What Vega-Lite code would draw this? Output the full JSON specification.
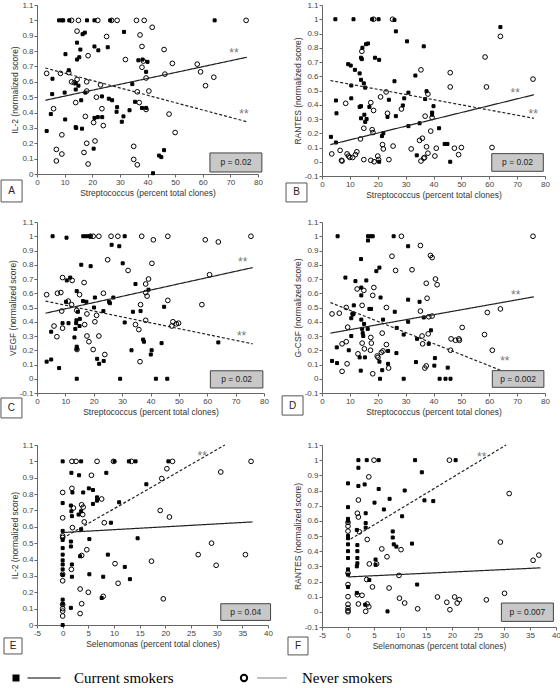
{
"$schema":"https://vega.github.io/schema/vega-lite/v6.json",
"background":"white",
"padding":{"left":0,"top":1,"right":0,"bottom":0},
"config":{"view":{"stroke":null},"font":"Liberation Sans",
"axis":{"grid":false,"labelFont":"Liberation Sans","labelFontSize":8,"labelColor":"#444","titleFont":"Liberation Sans","titleFontSize":8.5,"titleFontWeight":"normal","titleColor":"#333","domainColor":"#666","tickColor":"#666","tickSize":3,"labelPadding":1,"titlePadding":2,"labelOverlap":false,"labelFlush":false},
"axisY":{"titlePadding":2}},
"datasets":{
"A":[{"g":"C","x":8,"y":1},{"g":"C","x":9,"y":1},{"g":"C","x":9.5,"y":1},{"g":"C","x":11.7,"y":1},{"g":"C","x":18.1,"y":1},{"g":"C","x":20.8,"y":1},{"g":"C","x":26.5,"y":1},{"g":"C","x":64.3,"y":1},{"g":"C","x":16.5,"y":0.91},{"g":"C","x":17.3,"y":0.92},{"g":"C","x":31.5,"y":0.925},{"g":"C","x":14.5,"y":0.855},{"g":"C","x":15.7,"y":0.81},{"g":"C","x":20.8,"y":0.83},{"g":"C","x":22.2,"y":0.805},{"g":"C","x":25.6,"y":0.825},{"g":"C","x":10.3,"y":0.78},{"g":"C","x":15.3,"y":0.76},{"g":"C","x":14.5,"y":0.745},{"g":"C","x":36.7,"y":0.74},{"g":"C","x":38.2,"y":0.745},{"g":"C","x":40,"y":0.73},{"g":"C","x":39.5,"y":0.665},{"g":"C","x":11.5,"y":0.675},{"g":"C","x":14,"y":0.59},{"g":"C","x":15,"y":0.575},{"g":"C","x":5.6,"y":0.62},{"g":"C","x":5.5,"y":0.52},{"g":"C","x":10,"y":0.53},{"g":"C","x":14,"y":0.55},{"g":"C","x":16,"y":0.48},{"g":"C","x":17.5,"y":0.53},{"g":"C","x":23.5,"y":0.505},{"g":"C","x":26,"y":0.49},{"g":"C","x":27.2,"y":0.48},{"g":"C","x":34.5,"y":0.585},{"g":"C","x":35.5,"y":0.47},{"g":"C","x":5,"y":0.39},{"g":"C","x":10.2,"y":0.355},{"g":"C","x":14.2,"y":0.3},{"g":"C","x":16.3,"y":0.295},{"g":"C","x":20.8,"y":0.365},{"g":"C","x":22,"y":0.37},{"g":"C","x":23.6,"y":0.37},{"g":"C","x":28.8,"y":0.405},{"g":"C","x":29,"y":0.435},{"g":"C","x":30.7,"y":0.34},{"g":"C","x":31.3,"y":0.375},{"g":"C","x":33.5,"y":0.415},{"g":"C","x":38,"y":0.43},{"g":"C","x":39.5,"y":0.43},{"g":"C","x":3.5,"y":0.28},{"g":"C","x":20.5,"y":0.165},{"g":"C","x":44.2,"y":0.12},{"g":"C","x":45,"y":0.11},{"g":"C","x":46,"y":0.155},{"g":"C","x":42,"y":0.005},{"g":"C","x":14,"y":0.305},
{"g":"N","x":3.5,"y":0.655},{"g":"N","x":6,"y":0.425},{"g":"N","x":7,"y":0.16},{"g":"N","x":7,"y":0.085},{"g":"N","x":8.5,"y":0.655},{"g":"N","x":9,"y":0.255},{"g":"N","x":9,"y":0.13},{"g":"N","x":11.5,"y":0.66},{"g":"N","x":12.5,"y":0.6},{"g":"N","x":13.5,"y":0.595},{"g":"N","x":14.5,"y":0.615},{"g":"N","x":14,"y":0.465},{"g":"N","x":12.5,"y":1},{"g":"N","x":15,"y":1},{"g":"N","x":14.5,"y":0.93},{"g":"N","x":18,"y":0.6},{"g":"N","x":18,"y":0.54},{"g":"N","x":18.5,"y":0.77},{"g":"N","x":17.5,"y":0.375},{"g":"N","x":18,"y":0.2},{"g":"N","x":17,"y":0.14},{"g":"N","x":18.5,"y":0.065},{"g":"N","x":20.5,"y":0.335},{"g":"N","x":21.5,"y":0.5},{"g":"N","x":21,"y":0.215},{"g":"N","x":22,"y":1},{"g":"N","x":23,"y":0.58},{"g":"N","x":23.5,"y":0.425},{"g":"N","x":24,"y":0.315},{"g":"N","x":25.2,"y":0.895},{"g":"N","x":27,"y":1},{"g":"N","x":29,"y":1},{"g":"N","x":32,"y":0.745},{"g":"N","x":36,"y":1},{"g":"N","x":35,"y":0.18},{"g":"N","x":35,"y":0.095},{"g":"N","x":36.3,"y":0.06},{"g":"N","x":36.3,"y":0.535},{"g":"N","x":37,"y":0.465},{"g":"N","x":37.3,"y":0.905},{"g":"N","x":38,"y":0.83},{"g":"N","x":38,"y":0.695},{"g":"N","x":38.5,"y":0.735},{"g":"N","x":39.5,"y":0.625},{"g":"N","x":39.5,"y":0.42},{"g":"N","x":40.5,"y":0.54},{"g":"N","x":41.7,"y":0.955},{"g":"N","x":38.8,"y":1},{"g":"N","x":46,"y":0.81},{"g":"N","x":46.3,"y":0.65},{"g":"N","x":47.8,"y":0.39},{"g":"N","x":49,"y":0.72},{"g":"N","x":50,"y":0.27},{"g":"N","x":58,"y":0.715},{"g":"N","x":59.2,"y":0.665},{"g":"N","x":61,"y":0.575},{"g":"N","x":64,"y":0.63},{"g":"N","x":75.7,"y":1}],
"B":[{"g":"C","x":4.8,"y":1},{"g":"C","x":11.3,"y":1},{"g":"C","x":18,"y":1},{"g":"C","x":20.3,"y":1},{"g":"C","x":26,"y":0.995},{"g":"C","x":64,"y":0.945},{"g":"C","x":26.5,"y":0.915},{"g":"C","x":30.5,"y":0.845},{"g":"C","x":36.5,"y":0.81},{"g":"C","x":16.5,"y":0.83},{"g":"C","x":15.8,"y":0.825},{"g":"C","x":14.5,"y":0.8},{"g":"C","x":14,"y":0.73},{"g":"C","x":14.3,"y":0.72},{"g":"C","x":9.4,"y":0.685},{"g":"C","x":10.3,"y":0.675},{"g":"C","x":11.8,"y":0.645},{"g":"C","x":13.5,"y":0.62},{"g":"C","x":19,"y":0.73},{"g":"C","x":20.5,"y":0.715},{"g":"C","x":14,"y":0.575},{"g":"C","x":15,"y":0.55},{"g":"C","x":15.5,"y":0.52},{"g":"C","x":10.5,"y":0.535},{"g":"C","x":5,"y":0.43},{"g":"C","x":5.2,"y":0.34},{"g":"C","x":3.2,"y":0.175},{"g":"C","x":5,"y":0.135},{"g":"C","x":10.5,"y":0.445},{"g":"C","x":13.5,"y":0.385},{"g":"C","x":14,"y":0.39},{"g":"C","x":17,"y":0.385},{"g":"C","x":15.2,"y":0.33},{"g":"C","x":14,"y":0.305},{"g":"C","x":16,"y":0.3},{"g":"C","x":15.5,"y":0.28},{"g":"C","x":26,"y":0.565},{"g":"C","x":33.5,"y":0.605},{"g":"C","x":37.5,"y":0.495},{"g":"C","x":37,"y":0.44},{"g":"C","x":39.5,"y":0.345},{"g":"C","x":39.5,"y":0.33},{"g":"C","x":40,"y":0.39},{"g":"C","x":29.5,"y":0.445},{"g":"C","x":29,"y":0.395},{"g":"C","x":31,"y":0.485},{"g":"C","x":24,"y":0.435},{"g":"C","x":23.5,"y":0.315},{"g":"C","x":26.5,"y":0.32},{"g":"C","x":31,"y":0.25},{"g":"C","x":35,"y":0.27},{"g":"C","x":42,"y":0.235},{"g":"C","x":22,"y":0.2},{"g":"C","x":21.5,"y":0.18},{"g":"C","x":34,"y":0.045},{"g":"C","x":44,"y":0.125},{"g":"C","x":45,"y":0.125},{"g":"C","x":46,"y":0},{"g":"C","x":20.5,"y":0},
{"g":"N","x":3.5,"y":0.055},{"g":"N","x":6.5,"y":0.08},{"g":"N","x":7,"y":0.01},{"g":"N","x":7.2,"y":0.005},{"g":"N","x":8.5,"y":0.41},{"g":"N","x":9,"y":0.055},{"g":"N","x":9.5,"y":0.04},{"g":"N","x":10,"y":0.03},{"g":"N","x":11,"y":0.03},{"g":"N","x":12,"y":0.05},{"g":"N","x":12.5,"y":0.07},{"g":"N","x":13.8,"y":0.16},{"g":"N","x":15,"y":0.235},{"g":"N","x":15,"y":0.015},{"g":"N","x":17.5,"y":0.415},{"g":"N","x":18,"y":0.225},{"g":"N","x":18.3,"y":0.205},{"g":"N","x":18.5,"y":0.36},{"g":"N","x":17.5,"y":0.01},{"g":"N","x":18.7,"y":0},{"g":"N","x":20,"y":0.04},{"g":"N","x":20.3,"y":0.015},{"g":"N","x":21,"y":0.455},{"g":"N","x":21.7,"y":0.12},{"g":"N","x":22,"y":0.09},{"g":"N","x":23,"y":0.49},{"g":"N","x":23.5,"y":0.34},{"g":"N","x":24,"y":0.015},{"g":"N","x":25.5,"y":0.11},{"g":"N","x":28.5,"y":0.37},{"g":"N","x":32,"y":0.09},{"g":"N","x":35,"y":0.15},{"g":"N","x":35.5,"y":0.005},{"g":"N","x":35.5,"y":0.645},{"g":"N","x":36,"y":0.165},{"g":"N","x":36.5,"y":0.025},{"g":"N","x":36.8,"y":0.03},{"g":"N","x":37,"y":0.32},{"g":"N","x":37.5,"y":0.105},{"g":"N","x":38,"y":0.06},{"g":"N","x":38,"y":0.475},{"g":"N","x":39,"y":0.215},{"g":"N","x":39.5,"y":0.31},{"g":"N","x":40.5,"y":0.04},{"g":"N","x":41,"y":0.095},{"g":"N","x":46,"y":0.625},{"g":"N","x":46,"y":0.525},{"g":"N","x":47.5,"y":0.095},{"g":"N","x":49,"y":0.05},{"g":"N","x":50,"y":0.1},{"g":"N","x":58.5,"y":0.735},{"g":"N","x":59,"y":0.525},{"g":"N","x":61,"y":0.1},{"g":"N","x":75.7,"y":0.58},{"g":"N","x":64,"y":0.88},{"g":"N","x":14.3,"y":0.775},{"g":"N","x":18.5,"y":1},{"g":"N","x":25.3,"y":1}],
"C":[{"g":"C","x":5.5,"y":1},{"g":"C","x":10.4,"y":0.99},{"g":"C","x":16.3,"y":1},{"g":"C","x":17.4,"y":1},{"g":"C","x":18.6,"y":1},{"g":"C","x":30.9,"y":1},{"g":"C","x":26.3,"y":0.94},{"g":"C","x":29,"y":0.93},{"g":"C","x":15.6,"y":0.8},{"g":"C","x":18.9,"y":0.79},{"g":"C","x":30.2,"y":0.81},{"g":"C","x":10.5,"y":0.69},{"g":"C","x":11.7,"y":0.71},{"g":"C","x":14,"y":0.615},{"g":"C","x":16.2,"y":0.545},{"g":"C","x":17.4,"y":0.54},{"g":"C","x":20.4,"y":0.57},{"g":"C","x":20.1,"y":0.5},{"g":"C","x":10.2,"y":0.54},{"g":"C","x":25.7,"y":0.53},{"g":"C","x":26.9,"y":0.57},{"g":"C","x":25.4,"y":0.54},{"g":"C","x":23.4,"y":0.475},{"g":"C","x":34.7,"y":0.665},{"g":"C","x":39.3,"y":0.625},{"g":"C","x":36.5,"y":0.475},{"g":"C","x":33.8,"y":0.47},{"g":"C","x":30.9,"y":0.395},{"g":"C","x":14.4,"y":0.47},{"g":"C","x":15.1,"y":0.42},{"g":"C","x":13.9,"y":0.41},{"g":"C","x":13.8,"y":0.39},{"g":"C","x":13.5,"y":0.35},{"g":"C","x":13.2,"y":0.29},{"g":"C","x":9,"y":0.39},{"g":"C","x":11.1,"y":0.39},{"g":"C","x":15,"y":0.37},{"g":"C","x":5,"y":0.33},{"g":"C","x":14,"y":0.225},{"g":"C","x":14,"y":0.21},{"g":"C","x":21.2,"y":0.14},{"g":"C","x":21.9,"y":0.105},{"g":"C","x":23.5,"y":0.125},{"g":"C","x":33.3,"y":0.2},{"g":"C","x":37.7,"y":0.26},{"g":"C","x":37.4,"y":0.275},{"g":"C","x":40.1,"y":0.17},{"g":"C","x":40.4,"y":0.2},{"g":"C","x":43.9,"y":0.25},{"g":"C","x":44.8,"y":0.505},{"g":"C","x":5,"y":0.135},{"g":"C","x":3.4,"y":0.12},{"g":"C","x":7.8,"y":0.075},{"g":"C","x":14,"y":0},{"g":"C","x":29.3,"y":0},{"g":"C","x":41.9,"y":0},{"g":"C","x":45.9,"y":0},{"g":"C","x":63.9,"y":0.255},
{"g":"N","x":3.4,"y":0.59},{"g":"N","x":6,"y":0.37},{"g":"N","x":7,"y":0.295},{"g":"N","x":7.2,"y":0.6},{"g":"N","x":8.4,"y":0.605},{"g":"N","x":8.7,"y":0.475},{"g":"N","x":9,"y":0.355},{"g":"N","x":9,"y":0.71},{"g":"N","x":11,"y":0.545},{"g":"N","x":12.2,"y":0.52},{"g":"N","x":12.4,"y":0.69},{"g":"N","x":14,"y":0.48},{"g":"N","x":14.1,"y":0.205},{"g":"N","x":15,"y":0.59},{"g":"N","x":16.6,"y":0.675},{"g":"N","x":16.8,"y":0.38},{"g":"N","x":17.6,"y":0.455},{"g":"N","x":17.6,"y":0.3},{"g":"N","x":18.3,"y":0.26},{"g":"N","x":18.8,"y":1},{"g":"N","x":19.8,"y":1},{"g":"N","x":21.8,"y":1},{"g":"N","x":19.8,"y":0.205},{"g":"N","x":20.4,"y":0.4},{"g":"N","x":21,"y":0.445},{"g":"N","x":21.8,"y":0.3},{"g":"N","x":23.4,"y":0.6},{"g":"N","x":23.9,"y":0.17},{"g":"N","x":24.9,"y":0.835},{"g":"N","x":26.1,"y":1},{"g":"N","x":28.5,"y":1},{"g":"N","x":32.1,"y":0.76},{"g":"N","x":35.9,"y":0.345},{"g":"N","x":34.7,"y":0.38},{"g":"N","x":36.5,"y":0.52},{"g":"N","x":36.9,"y":1},{"g":"N","x":36.3,"y":0.12},{"g":"N","x":38.3,"y":0.605},{"g":"N","x":38.3,"y":0.665},{"g":"N","x":38.8,"y":0.58},{"g":"N","x":39.3,"y":0.7},{"g":"N","x":38.3,"y":0.41},{"g":"N","x":41,"y":0.975},{"g":"N","x":40.5,"y":0.81},{"g":"N","x":46.1,"y":1},{"g":"N","x":46.1,"y":0.55},{"g":"N","x":47.9,"y":0.4},{"g":"N","x":49.1,"y":0.385},{"g":"N","x":49.9,"y":0.39},{"g":"N","x":47.5,"y":0.37},{"g":"N","x":58.1,"y":0.52},{"g":"N","x":59.3,"y":0.975},{"g":"N","x":60.8,"y":0.73},{"g":"N","x":63.9,"y":0.96},{"g":"N","x":75.4,"y":1}],
"D":[{"g":"C","x":5.6,"y":1},{"g":"C","x":16.5,"y":1},{"g":"C","x":17.4,"y":1},{"g":"C","x":18.2,"y":1},{"g":"C","x":16.5,"y":0.97},{"g":"C","x":25.7,"y":1},{"g":"C","x":30.9,"y":0.93},{"g":"C","x":14,"y":0.84},{"g":"C","x":8.4,"y":0.71},{"g":"C","x":12,"y":0.685},{"g":"C","x":19.5,"y":0.755},{"g":"C","x":20.6,"y":0.78},{"g":"C","x":15.9,"y":0.69},{"g":"C","x":14.1,"y":0.64},{"g":"C","x":14.1,"y":0.585},{"g":"C","x":11.4,"y":0.515},{"g":"C","x":17,"y":0.49},{"g":"C","x":17.6,"y":0.49},{"g":"C","x":21,"y":0.57},{"g":"C","x":26.1,"y":0.47},{"g":"C","x":30.9,"y":0.555},{"g":"C","x":35,"y":0.54},{"g":"C","x":36.5,"y":0.43},{"g":"C","x":21.9,"y":0.415},{"g":"C","x":14.1,"y":0.415},{"g":"C","x":15.1,"y":0.385},{"g":"C","x":10.5,"y":0.425},{"g":"C","x":11.1,"y":0.455},{"g":"C","x":14.4,"y":0.35},{"g":"C","x":16.4,"y":0.35},{"g":"C","x":14.6,"y":0.32},{"g":"C","x":14.8,"y":0.3},{"g":"C","x":10.5,"y":0.3},{"g":"C","x":5.3,"y":0.22},{"g":"C","x":9.6,"y":0.2},{"g":"C","x":13.5,"y":0.15},{"g":"C","x":15.4,"y":0.15},{"g":"C","x":13.9,"y":0.057},{"g":"C","x":3.6,"y":0.125},{"g":"C","x":5.4,"y":0.11},{"g":"C","x":20.6,"y":0.12},{"g":"C","x":21.6,"y":0.06},{"g":"C","x":23.7,"y":0.195},{"g":"C","x":23.7,"y":0.105},{"g":"C","x":26.7,"y":0.18},{"g":"C","x":30.9,"y":0.4},{"g":"C","x":29.3,"y":0.31},{"g":"C","x":26.8,"y":0.357},{"g":"C","x":34.1,"y":0.28},{"g":"C","x":38.3,"y":0.245},{"g":"C","x":39.1,"y":0.34},{"g":"C","x":33.7,"y":0.117},{"g":"C","x":40.5,"y":0.145},{"g":"C","x":40.3,"y":0.092},{"g":"C","x":45.1,"y":0.078},{"g":"C","x":42.2,"y":0},{"g":"C","x":44.3,"y":0},{"g":"C","x":46.1,"y":0},{"g":"C","x":20.8,"y":0},{"g":"C","x":29.3,"y":0},
{"g":"N","x":3.6,"y":0.455},{"g":"N","x":6.2,"y":0.46},{"g":"N","x":7.2,"y":0.052},{"g":"N","x":7.2,"y":0.245},{"g":"N","x":8.7,"y":0.26},{"g":"N","x":9,"y":0.105},{"g":"N","x":9.2,"y":0.362},{"g":"N","x":8.7,"y":0.5},{"g":"N","x":11.1,"y":0.455},{"g":"N","x":12.6,"y":0.63},{"g":"N","x":12.9,"y":0.175},{"g":"N","x":14.4,"y":0.25},{"g":"N","x":14.4,"y":0.515},{"g":"N","x":15,"y":0.62},{"g":"N","x":15.2,"y":0.21},{"g":"N","x":17.4,"y":0.2},{"g":"N","x":17.7,"y":0.25},{"g":"N","x":17.5,"y":0.29},{"g":"N","x":18.2,"y":0.585},{"g":"N","x":18.6,"y":0.64},{"g":"N","x":18.2,"y":0.035},{"g":"N","x":19.8,"y":0.16},{"g":"N","x":20.1,"y":0.15},{"g":"N","x":21.3,"y":0.185},{"g":"N","x":21.6,"y":0.32},{"g":"N","x":21.9,"y":0.195},{"g":"N","x":23.1,"y":0.24},{"g":"N","x":23.1,"y":0.5},{"g":"N","x":23.9,"y":0.075},{"g":"N","x":25.1,"y":0.86},{"g":"N","x":26.4,"y":0.76},{"g":"N","x":28.5,"y":1},{"g":"N","x":32.3,"y":0.765},{"g":"N","x":35.3,"y":0.935},{"g":"N","x":35.3,"y":0.475},{"g":"N","x":35.9,"y":0.3},{"g":"N","x":36.1,"y":0.245},{"g":"N","x":36.9,"y":0.075},{"g":"N","x":37.4,"y":0.09},{"g":"N","x":37.4,"y":0.67},{"g":"N","x":37.7,"y":0.565},{"g":"N","x":38.1,"y":0.315},{"g":"N","x":38.3,"y":0.435},{"g":"N","x":38.9,"y":0.865},{"g":"N","x":39.5,"y":0.85},{"g":"N","x":39.5,"y":0.44},{"g":"N","x":40.7,"y":0.7},{"g":"N","x":41.3,"y":0.66},{"g":"N","x":46.1,"y":0.2},{"g":"N","x":46.3,"y":0.28},{"g":"N","x":47.9,"y":0.27},{"g":"N","x":49.1,"y":0.28},{"g":"N","x":49.3,"y":0.27},{"g":"N","x":50.3,"y":0.36},{"g":"N","x":58.3,"y":0.31},{"g":"N","x":59.3,"y":0.465},{"g":"N","x":61.1,"y":0.2},{"g":"N","x":64,"y":0.49},{"g":"N","x":75.7,"y":1}],
"E":[{"g":"C","x":0,"y":1},{"g":"C","x":3.6,"y":1},{"g":"C","x":10.1,"y":1},{"g":"C","x":12.9,"y":1},{"g":"C","x":14.2,"y":1},{"g":"C","x":20.6,"y":1},{"g":"C","x":1.7,"y":0.93},{"g":"C","x":3.2,"y":0.915},{"g":"C","x":8.5,"y":0.93},{"g":"C","x":4,"y":0.81},{"g":"C","x":1.9,"y":0.81},{"g":"C","x":5.1,"y":0.835},{"g":"C","x":5.9,"y":0.825},{"g":"C","x":6.7,"y":0.78},{"g":"C","x":6.7,"y":0.76},{"g":"C","x":5.9,"y":0.74},{"g":"C","x":11,"y":0.75},{"g":"C","x":16.3,"y":0.86},{"g":"C","x":1.6,"y":0.73},{"g":"C","x":1.7,"y":0.695},{"g":"C","x":0,"y":0.745},{"g":"C","x":0,"y":0.575},{"g":"C","x":1.8,"y":0.665},{"g":"C","x":3.1,"y":0.675},{"g":"C","x":3.6,"y":0.695},{"g":"C","x":3.6,"y":0.585},{"g":"C","x":9.4,"y":0.625},{"g":"C","x":1.6,"y":0.51},{"g":"C","x":1.6,"y":0.48},{"g":"C","x":0,"y":0.52},{"g":"C","x":0,"y":0.47},{"g":"C","x":0,"y":0.43},{"g":"C","x":0,"y":0.395},{"g":"C","x":0,"y":0.37},{"g":"C","x":0,"y":0.34},{"g":"C","x":0,"y":0.305},{"g":"C","x":5.2,"y":0.525},{"g":"C","x":3.4,"y":0.42},{"g":"C","x":1.8,"y":0.37},{"g":"C","x":1.8,"y":0.295},{"g":"C","x":5.2,"y":0.31},{"g":"C","x":7.9,"y":0.295},{"g":"C","x":8.8,"y":0.43},{"g":"C","x":12.1,"y":0.355},{"g":"C","x":13.1,"y":0.28},{"g":"C","x":14.6,"y":0.53},{"g":"C","x":7.6,"y":0.165},{"g":"C","x":1.6,"y":0.105},{"g":"C","x":0,"y":0.155},{"g":"C","x":0,"y":0.13},{"g":"C","x":0,"y":0},
{"g":"N","x":0,"y":0.81},{"g":"N","x":0,"y":0.655},{"g":"N","x":0,"y":0.545},{"g":"N","x":0,"y":0.535},{"g":"N","x":0,"y":0.31},{"g":"N","x":0,"y":0.27},{"g":"N","x":0,"y":0.085},{"g":"N","x":0,"y":0.055},{"g":"N","x":0,"y":0.125},{"g":"N","x":0,"y":0.1},{"g":"N","x":1.8,"y":1},{"g":"N","x":2.6,"y":1},{"g":"N","x":6.7,"y":1},{"g":"N","x":9.9,"y":1},{"g":"N","x":13.4,"y":1},{"g":"N","x":21.4,"y":1},{"g":"N","x":36.7,"y":1},{"g":"N","x":1.8,"y":0.835},{"g":"N","x":2.1,"y":0.715},{"g":"N","x":1.9,"y":0.595},{"g":"N","x":3.7,"y":0.735},{"g":"N","x":4,"y":0.72},{"g":"N","x":3.9,"y":0.675},{"g":"N","x":4.2,"y":0.63},{"g":"N","x":5.6,"y":0.915},{"g":"N","x":7.6,"y":0.77},{"g":"N","x":8.1,"y":0.625},{"g":"N","x":1.7,"y":0.34},{"g":"N","x":3.7,"y":0.425},{"g":"N","x":4.7,"y":0.46},{"g":"N","x":3.4,"y":0.22},{"g":"N","x":3.7,"y":0.13},{"g":"N","x":3.4,"y":0.07},{"g":"N","x":5,"y":0.2},{"g":"N","x":7.9,"y":0.175},{"g":"N","x":10.2,"y":0.375},{"g":"N","x":10.8,"y":0.255},{"g":"N","x":17.3,"y":0.39},{"g":"N","x":19.6,"y":0.16},{"g":"N","x":19.3,"y":0.895},{"g":"N","x":20.3,"y":0.955},{"g":"N","x":19,"y":0.7},{"g":"N","x":20.8,"y":0.66},{"g":"N","x":26.4,"y":0.43},{"g":"N","x":29,"y":0.5},{"g":"N","x":29.9,"y":0.365},{"g":"N","x":30.8,"y":0.935},{"g":"N","x":35.6,"y":0.43}],
"F":[{"g":"C","x":2,"y":1},{"g":"C","x":3.6,"y":1},{"g":"C","x":5.9,"y":1},{"g":"C","x":12.9,"y":1},{"g":"C","x":20.7,"y":1},{"g":"C","x":2,"y":0.95},{"g":"C","x":0,"y":0.847},{"g":"C","x":2,"y":0.83},{"g":"C","x":3.2,"y":0.84},{"g":"C","x":5.9,"y":0.81},{"g":"C","x":10.9,"y":0.8},{"g":"C","x":14.2,"y":0.92},{"g":"C","x":14.7,"y":0.735},{"g":"C","x":16.4,"y":0.73},{"g":"C","x":0,"y":0.69},{"g":"C","x":8,"y":0.745},{"g":"C","x":5.1,"y":0.72},{"g":"C","x":6.9,"y":0.675},{"g":"C","x":0,"y":0.613},{"g":"C","x":0,"y":0.6},{"g":"C","x":3.4,"y":0.65},{"g":"C","x":10.4,"y":0.63},{"g":"C","x":1.7,"y":0.54},{"g":"C","x":3.4,"y":0.585},{"g":"C","x":3.4,"y":0.555},{"g":"C","x":0,"y":0.5},{"g":"C","x":0,"y":0.485},{"g":"C","x":8.6,"y":0.53},{"g":"C","x":8.6,"y":0.49},{"g":"C","x":1.8,"y":0.44},{"g":"C","x":0,"y":0.445},{"g":"C","x":0,"y":0.4},{"g":"C","x":1.8,"y":0.4},{"g":"C","x":0,"y":0.355},{"g":"C","x":1.8,"y":0.355},{"g":"C","x":8.8,"y":0.445},{"g":"C","x":9.3,"y":0.43},{"g":"C","x":12.3,"y":0.45},{"g":"C","x":1.8,"y":0.32},{"g":"C","x":1.7,"y":0.3},{"g":"C","x":5.3,"y":0.345},{"g":"C","x":5.3,"y":0.31},{"g":"C","x":0,"y":0.28},{"g":"C","x":0,"y":0.245},{"g":"C","x":4.1,"y":0.21},{"g":"C","x":1.7,"y":0.125},{"g":"C","x":3.3,"y":0.047},{"g":"C","x":13.3,"y":0.18},{"g":"C","x":7.6,"y":0.003},{"g":"C","x":0,"y":0.164},
{"g":"N","x":0,"y":0.59},{"g":"N","x":0,"y":0.565},{"g":"N","x":0,"y":0.532},{"g":"N","x":0,"y":0.256},{"g":"N","x":0,"y":0.18},{"g":"N","x":0,"y":0.1},{"g":"N","x":0,"y":0.05},{"g":"N","x":0,"y":0.025},{"g":"N","x":0,"y":0.008},{"g":"N","x":0,"y":0},{"g":"N","x":1.8,"y":0.65},{"g":"N","x":2,"y":0.625},{"g":"N","x":2,"y":0.737},{"g":"N","x":2.2,"y":0.527},{"g":"N","x":4,"y":0.89},{"g":"N","x":5,"y":1},{"g":"N","x":3.7,"y":0.477},{"g":"N","x":4.1,"y":0.316},{"g":"N","x":5.5,"y":0.316},{"g":"N","x":6.5,"y":0.415},{"g":"N","x":7.5,"y":0.363},{"g":"N","x":7.9,"y":0.157},{"g":"N","x":3.6,"y":0.213},{"g":"N","x":2.7,"y":0.109},{"g":"N","x":2,"y":0.052},{"g":"N","x":1.8,"y":0.113},{"g":"N","x":3.7,"y":0.052},{"g":"N","x":4,"y":0.034},{"g":"N","x":3.4,"y":0.003},{"g":"N","x":4.7,"y":0.164},{"g":"N","x":9.9,"y":0.09},{"g":"N","x":10.9,"y":0.058},{"g":"N","x":10.2,"y":0.41},{"g":"N","x":9.8,"y":0.24},{"g":"N","x":13.4,"y":0.02},{"g":"N","x":17.2,"y":0.098},{"g":"N","x":19,"y":0.063},{"g":"N","x":19.6,"y":0.014},{"g":"N","x":19.5,"y":1},{"g":"N","x":20.5,"y":0.098},{"g":"N","x":21,"y":0.058},{"g":"N","x":21.4,"y":0.08},{"g":"N","x":26.6,"y":0.079},{"g":"N","x":29.3,"y":0.46},{"g":"N","x":30.1,"y":0.122},{"g":"N","x":31,"y":0.78},{"g":"N","x":35.6,"y":0.34},{"g":"N","x":36.7,"y":0.374}]
},
"align":"none",
"spacing":22,
"vconcat":[
{"align":"none","spacing":15,"vconcat":[
{"hconcat":[
{"width":221,"height":169,
"encoding":{"x":{"field":"x","type":"quantitative","scale":{"domain":[0,80],"nice":false,"zero":false},"axis":{"values":[0,10,20,30,40,50,60,70,80],"title":"Streptococcus (percent total clones)"}},
"y":{"field":"y","type":"quantitative","scale":{"domain":[0,1.1],"nice":false,"zero":false},"axis":{"values":[0,0.1,0.2,0.3,0.4,0.5,0.6,0.7,0.8,0.9,1,1.1],"title":"IL-2 (normalized score)","labelExpr":"datum.value < 0 ? '-' + format(-datum.value, '~g') : format(datum.value, '~g')"}}},
"layer":[
{"data":{"name":"A"},"mark":{"type":"point","filled":true,"stroke":"#000","strokeWidth":1,"opacity":1},"encoding":{"shape":{"field":"g","scale":{"domain":["C","N"],"range":["square","circle"]},"legend":null},"fill":{"field":"g","scale":{"domain":["C","N"],"range":["#000","rgba(255,255,255,0)"]},"legend":null},"size":{"field":"g","scale":{"domain":["C","N"],"range":[9,22]},"legend":null}}},
{"data":{"values":[{"g":"C","x":3,"y":0.48},{"g":"C","x":76,"y":0.76},{"g":"N","x":3,"y":0.69},{"g":"N","x":76,"y":0.34}]},"mark":{"type":"line","color":"#222","strokeWidth":1.2},"encoding":{"detail":{"field":"g"},"strokeDash":{"field":"g","scale":{"domain":["C","N"],"range":[[1,0],[3,2]]},"legend":null}}},
{"data":{"values":[{"x":71.3,"y":0.807},{"x":74.9,"y":0.41}]},"mark":{"type":"text","text":"**","fontSize":12,"color":"#777","dy":3}},
{"data":{"values":[{"x":62.6,"x2":81.4,"y":0.013,"y2":0.137}]},"mark":{"type":"rect","fill":"#c8c8c8","stroke":"#444","strokeWidth":1},"encoding":{"x2":{"field":"x2"},"y2":{"field":"y2"}}},
{"data":{"values":[{"x":72,"y":0.075,"t":"p = 0.02"}]},"mark":{"type":"text","fontSize":8.5,"color":"#222"},"encoding":{"text":{"field":"t"}}},
{"data":{"values":[{"x":-13,"x2":-5.4,"y":-0.039,"y2":-0.182}]},"mark":{"type":"rect","fill":"#fff","stroke":"#555","strokeWidth":1},"encoding":{"x2":{"field":"x2"},"y2":{"field":"y2"}}},
{"data":{"values":[{"x":-9.2,"y":-0.11,"t":"A"}]},"mark":{"type":"text","fontSize":10,"color":"#222"},"encoding":{"text":{"field":"t"}}}
]},
{"width":223,"height":171,
"encoding":{"x":{"field":"x","type":"quantitative","scale":{"domain":[0,80],"nice":false,"zero":false},"axis":{"values":[0,10,20,30,40,50,60,70,80],"title":"Streptococcus (percent total clones)"}},
"y":{"field":"y","type":"quantitative","scale":{"domain":[-0.1,1.1],"nice":false,"zero":false},"axis":{"values":[-0.1,0,0.1,0.2,0.3,0.4,0.5,0.6,0.7,0.8,0.9,1,1.1],"title":"RANTES (normalized score)","labelExpr":"datum.value < 0 ? '-' + format(-datum.value, '~g') : format(datum.value, '~g')"}}},
"layer":[
{"data":{"name":"B"},"mark":{"type":"point","filled":true,"stroke":"#000","strokeWidth":1,"opacity":1},"encoding":{"shape":{"field":"g","scale":{"domain":["C","N"],"range":["square","circle"]},"legend":null},"fill":{"field":"g","scale":{"domain":["C","N"],"range":["#000","rgba(255,255,255,0)"]},"legend":null},"size":{"field":"g","scale":{"domain":["C","N"],"range":[9,22]},"legend":null}}},
{"data":{"values":[{"g":"C","x":3,"y":0.12},{"g":"C","x":76,"y":0.47},{"g":"N","x":3,"y":0.57},{"g":"N","x":76,"y":0.305}]},"mark":{"type":"line","color":"#222","strokeWidth":1.2},"encoding":{"detail":{"field":"g"},"strokeDash":{"field":"g","scale":{"domain":["C","N"],"range":[[1,0],[3,2]]},"legend":null}}},
{"data":{"values":[{"x":69.3,"y":0.507},{"x":75.8,"y":0.355}]},"mark":{"type":"text","text":"**","fontSize":12,"color":"#777","dy":3}},
{"data":{"values":[{"x":60.9,"x2":79.4,"y":-0.067,"y2":0.057}]},"mark":{"type":"rect","fill":"#c8c8c8","stroke":"#444","strokeWidth":1},"encoding":{"x2":{"field":"x2"},"y2":{"field":"y2"}}},
{"data":{"values":[{"x":70.15,"y":-0.005,"t":"p = 0.02"}]},"mark":{"type":"text","fontSize":8.5,"color":"#222"},"encoding":{"text":{"field":"t"}}},
{"data":{"values":[{"x":-12.9,"x2":-5.4,"y":-0.149,"y2":-0.282}]},"mark":{"type":"rect","fill":"#fff","stroke":"#555","strokeWidth":1},"encoding":{"x2":{"field":"x2"},"y2":{"field":"y2"}}},
{"data":{"values":[{"x":-9.15,"y":-0.215,"t":"B"}]},"mark":{"type":"text","fontSize":10,"color":"#222"},"encoding":{"text":{"field":"t"}}}
]}
],"spacing":22},
{"hconcat":[
{"width":227,"height":171,
"encoding":{"x":{"field":"x","type":"quantitative","scale":{"domain":[0,80],"nice":false,"zero":false},"axis":{"values":[0,10,20,30,40,50,60,70,80],"title":"Streptococcus (percent total clones)"}},
"y":{"field":"y","type":"quantitative","scale":{"domain":[-0.1,1.1],"nice":false,"zero":false},"axis":{"values":[-0.1,0,0.1,0.2,0.3,0.4,0.5,0.6,0.7,0.8,0.9,1,1.1],"title":"VEGF (normalized score)","labelExpr":"datum.value < 0 ? '-' + format(-datum.value, '~g') : format(datum.value, '~g')"}}},
"layer":[
{"data":{"name":"C"},"mark":{"type":"point","filled":true,"stroke":"#000","strokeWidth":1,"opacity":1},"encoding":{"shape":{"field":"g","scale":{"domain":["C","N"],"range":["square","circle"]},"legend":null},"fill":{"field":"g","scale":{"domain":["C","N"],"range":["#000","rgba(255,255,255,0)"]},"legend":null},"size":{"field":"g","scale":{"domain":["C","N"],"range":[9,22]},"legend":null}}},
{"data":{"values":[{"g":"C","x":3,"y":0.46},{"g":"C","x":76,"y":0.78},{"g":"N","x":3,"y":0.545},{"g":"N","x":76,"y":0.245}]},"mark":{"type":"line","color":"#222","strokeWidth":1.2},"encoding":{"detail":{"field":"g"},"strokeDash":{"field":"g","scale":{"domain":["C","N"],"range":[[1,0],[3,2]]},"legend":null}}},
{"data":{"values":[{"x":72.5,"y":0.84},{"x":72.1,"y":0.32}]},"mark":{"type":"text","text":"**","fontSize":12,"color":"#777","dy":3}},
{"data":{"values":[{"x":61.1,"x2":79.6,"y":-0.065,"y2":0.056}]},"mark":{"type":"rect","fill":"#c8c8c8","stroke":"#444","strokeWidth":1},"encoding":{"x2":{"field":"x2"},"y2":{"field":"y2"}}},
{"data":{"values":[{"x":70.35,"y":-0.005,"t":"p = 0.02"}]},"mark":{"type":"text","fontSize":8.5,"color":"#222"},"encoding":{"text":{"field":"t"}}},
{"data":{"values":[{"x":-12.7,"x2":-5.3,"y":-0.135,"y2":-0.275}]},"mark":{"type":"rect","fill":"#fff","stroke":"#555","strokeWidth":1},"encoding":{"x2":{"field":"x2"},"y2":{"field":"y2"}}},
{"data":{"values":[{"x":-9,"y":-0.205,"t":"C"}]},"mark":{"type":"text","fontSize":10,"color":"#222"},"encoding":{"text":{"field":"t"}}}
]},
{"width":223,"height":171,
"encoding":{"x":{"field":"x","type":"quantitative","scale":{"domain":[0,80],"nice":false,"zero":false},"axis":{"values":[0,10,20,30,40,50,60,70,80],"title":"Streptococcus (percent total clones)"}},
"y":{"field":"y","type":"quantitative","scale":{"domain":[-0.1,1.1],"nice":false,"zero":false},"axis":{"values":[-0.1,0,0.1,0.2,0.3,0.4,0.5,0.6,0.7,0.8,0.9,1,1.1],"title":"G-CSF (normalized score)","labelExpr":"datum.value < 0 ? '-' + format(-datum.value, '~g') : format(datum.value, '~g')"}}},
"layer":[
{"data":{"name":"D"},"mark":{"type":"point","filled":true,"stroke":"#000","strokeWidth":1,"opacity":1},"encoding":{"shape":{"field":"g","scale":{"domain":["C","N"],"range":["square","circle"]},"legend":null},"fill":{"field":"g","scale":{"domain":["C","N"],"range":["#000","rgba(255,255,255,0)"]},"legend":null},"size":{"field":"g","scale":{"domain":["C","N"],"range":[9,22]},"legend":null}}},
{"data":{"values":[{"g":"C","x":3,"y":0.32},{"g":"C","x":76,"y":0.575},{"g":"N","x":3,"y":0.535},{"g":"N","x":64,"y":0.06}]},"mark":{"type":"line","color":"#222","strokeWidth":1.2},"encoding":{"detail":{"field":"g"},"strokeDash":{"field":"g","scale":{"domain":["C","N"],"range":[[1,0],[3,2]]},"legend":null}}},
{"data":{"values":[{"x":69.5,"y":0.61},{"x":65.6,"y":0.146}]},"mark":{"type":"text","text":"**","fontSize":12,"color":"#777","dy":3}},
{"data":{"values":[{"x":61.1,"x2":79.6,"y":-0.06,"y2":0.057}]},"mark":{"type":"rect","fill":"#c8c8c8","stroke":"#444","strokeWidth":1},"encoding":{"x2":{"field":"x2"},"y2":{"field":"y2"}}},
{"data":{"values":[{"x":70.35,"y":-0.002,"t":"p = 0.002"}]},"mark":{"type":"text","fontSize":8.5,"color":"#222"},"encoding":{"text":{"field":"t"}}},
{"data":{"values":[{"x":-14.3,"x2":-6.8,"y":-0.12,"y2":-0.255}]},"mark":{"type":"rect","fill":"#fff","stroke":"#555","strokeWidth":1},"encoding":{"x2":{"field":"x2"},"y2":{"field":"y2"}}},
{"data":{"values":[{"x":-10.55,"y":-0.188,"t":"D"}]},"mark":{"type":"text","fontSize":10,"color":"#222"},"encoding":{"text":{"field":"t"}}}
]}
],"spacing":12}
]},
{"align":"none","spacing":12,"vconcat":[
{"hconcat":[
{"width":231,"height":180,
"encoding":{"x":{"field":"x","type":"quantitative","scale":{"domain":[-5,40],"nice":false,"zero":false},"axis":{"values":[-5,0,5,10,15,20,25,30,35,40],"title":"Selenomonas (percent total clones)","labelExpr":"datum.value < 0 ? '-' + format(-datum.value, '~g') : format(datum.value, '~g')"}},
"y":{"field":"y","type":"quantitative","scale":{"domain":[0,1.1],"nice":false,"zero":false},"axis":{"values":[0,0.1,0.2,0.3,0.4,0.5,0.6,0.7,0.8,0.9,1,1.1],"title":"IL-2 (normalized score)","labelExpr":"datum.value < 0 ? '-' + format(-datum.value, '~g') : format(datum.value, '~g')"}}},
"layer":[
{"data":{"name":"E"},"mark":{"type":"point","filled":true,"stroke":"#000","strokeWidth":1,"opacity":1},"encoding":{"shape":{"field":"g","scale":{"domain":["C","N"],"range":["square","circle"]},"legend":null},"fill":{"field":"g","scale":{"domain":["C","N"],"range":["#000","rgba(255,255,255,0)"]},"legend":null},"size":{"field":"g","scale":{"domain":["C","N"],"range":[9,22]},"legend":null}}},
{"data":{"values":[{"g":"C","x":0,"y":0.565},{"g":"C","x":37,"y":0.63},{"g":"N","x":0,"y":0.53},{"g":"N","x":31.6,"y":1.1}]},"mark":{"type":"line","color":"#222","strokeWidth":1.2},"encoding":{"detail":{"field":"g"},"strokeDash":{"field":"g","scale":{"domain":["C","N"],"range":[[1,0],[3,2]]},"legend":null}}},
{"data":{"values":[{"x":27.2,"y":1.053}]},"mark":{"type":"text","text":"**","fontSize":12,"color":"#777","dy":3}},
{"data":{"values":[{"x":30.8,"x2":40.5,"y":0.028,"y2":0.13}]},"mark":{"type":"rect","fill":"#c8c8c8","stroke":"#444","strokeWidth":1},"encoding":{"x2":{"field":"x2"},"y2":{"field":"y2"}}},
{"data":{"values":[{"x":35.65,"y":0.079,"t":"p = 0.04"}]},"mark":{"type":"text","fontSize":8.5,"color":"#222"},"encoding":{"text":{"field":"t"}}},
{"data":{"values":[{"x":-11.43,"x2":-7.92,"y":-0.079,"y2":-0.177}]},"mark":{"type":"rect","fill":"#fff","stroke":"#555","strokeWidth":1},"encoding":{"x2":{"field":"x2"},"y2":{"field":"y2"}}},
{"data":{"values":[{"x":-9.67,"y":-0.128,"t":"E"}]},"mark":{"type":"text","fontSize":10,"color":"#222"},"encoding":{"text":{"field":"t"}}}
]},
{"width":234,"height":182,
"encoding":{"x":{"field":"x","type":"quantitative","scale":{"domain":[-5,40],"nice":false,"zero":false},"axis":{"values":[-5,0,5,10,15,20,25,30,35,40],"title":"Selenomonas (percent total clones)","labelExpr":"datum.value < 0 ? '-' + format(-datum.value, '~g') : format(datum.value, '~g')"}},
"y":{"field":"y","type":"quantitative","scale":{"domain":[-0.1,1.1],"nice":false,"zero":false},"axis":{"values":[-0.1,0,0.1,0.2,0.3,0.4,0.5,0.6,0.7,0.8,0.9,1,1.1],"title":"RANTES (normalized score)","labelExpr":"datum.value < 0 ? '-' + format(-datum.value, '~g') : format(datum.value, '~g')"}}},
"layer":[
{"data":{"name":"F"},"mark":{"type":"point","filled":true,"stroke":"#000","strokeWidth":1,"opacity":1},"encoding":{"shape":{"field":"g","scale":{"domain":["C","N"],"range":["square","circle"]},"legend":null},"fill":{"field":"g","scale":{"domain":["C","N"],"range":["#000","rgba(255,255,255,0)"]},"legend":null},"size":{"field":"g","scale":{"domain":["C","N"],"range":[9,22]},"legend":null}}},
{"data":{"values":[{"g":"C","x":0,"y":0.23},{"g":"C","x":37,"y":0.29},{"g":"N","x":0.5,"y":0.48},{"g":"N","x":30.4,"y":1.1}]},"mark":{"type":"line","color":"#222","strokeWidth":1.2},"encoding":{"detail":{"field":"g"},"strokeDash":{"field":"g","scale":{"domain":["C","N"],"range":[[1,0],[3,2]]},"legend":null}}},
{"data":{"values":[{"x":25.7,"y":1.04}]},"mark":{"type":"text","text":"**","fontSize":12,"color":"#777","dy":3}},
{"data":{"values":[{"x":29.5,"x2":39.5,"y":-0.063,"y2":0.058}]},"mark":{"type":"rect","fill":"#c8c8c8","stroke":"#444","strokeWidth":1},"encoding":{"x2":{"field":"x2"},"y2":{"field":"y2"}}},
{"data":{"values":[{"x":34.5,"y":-0.002,"t":"p = 0.007"}]},"mark":{"type":"text","fontSize":8.5,"color":"#222"},"encoding":{"text":{"field":"t"}}},
{"data":{"values":[{"x":-11.54,"x2":-7.69,"y":-0.166,"y2":-0.284}]},"mark":{"type":"rect","fill":"#fff","stroke":"#555","strokeWidth":1},"encoding":{"x2":{"field":"x2"},"y2":{"field":"y2"}}},
{"data":{"values":[{"x":-9.6,"y":-0.225,"t":"F"}]},"mark":{"type":"text","fontSize":10,"color":"#222"},"encoding":{"text":{"field":"t"}}}
]}
],"spacing":14},
{"width":460,"height":20,
"data":{"values":[{"lg":"Current smokers"},{"lg":"Never smokers"}]},
"encoding":{"x":{"field":"lg","type":"nominal","scale":{"type":"point","padding":0,"domain":["Current smokers","Never smokers"],"range":[-21,207]},"axis":null}},
"layer":[
{"transform":[{"filter":"datum.lg === 'Current smokers'"}],"mark":{"type":"point","shape":"square","filled":true,"color":"#000","size":49,"opacity":1}},
{"transform":[{"filter":"datum.lg === 'Never smokers'"}],"mark":{"type":"point","shape":"circle","filled":false,"color":"#000","strokeWidth":2,"size":40,"opacity":1}},
{"transform":[{"filter":"datum.lg === 'Current smokers'"}],"mark":{"type":"point","shape":"M-1,0L1,0","filled":false,"color":"#000","strokeWidth":1.2,"size":1089,"xOffset":28,"opacity":1}},
{"transform":[{"filter":"datum.lg === 'Never smokers'"}],"mark":{"type":"point","shape":"M-1,0L1,0","filled":false,"color":"#000","strokeWidth":1,"strokeDash":[1,1],"size":841,"xOffset":28,"opacity":1}},
{"mark":{"type":"text","align":"left","baseline":"middle","dx":58,"font":"Liberation Serif","fontSize":15,"color":"#000"},"encoding":{"text":{"field":"lg"}}}
]}
]}
]
}
